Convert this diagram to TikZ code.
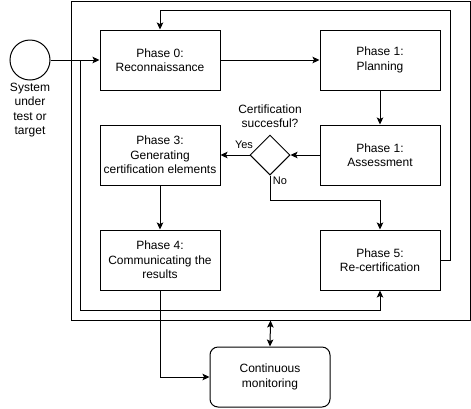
\documentclass[tikz,border=0pt]{standalone}
\usepackage{fontspec}
\setmainfont{Liberation Sans}
\usetikzlibrary{shapes.geometric,arrows.meta}
\tikzset{
  box/.style={draw, line width=1pt, minimum width=120pt, minimum height=60pt, align=center, inner sep=0pt, font=\fontsize{12}{14.4}\selectfont},
  lbl/.style={inner sep=0pt, align=center, font=\fontsize{12}{14.4}\selectfont},
  slbl/.style={inner sep=0pt, font=\fontsize{11}{13}\selectfont},
  conn/.style={line width=1pt, -{Stealth[length=7pt,width=6.5pt,inset=1.5pt]}},
  line/.style={line width=1pt},
  dbl/.style={line width=1pt, {Stealth[length=7pt,width=6.5pt,inset=1.5pt]}-{Stealth[length=7pt,width=6.5pt,inset=1.5pt]}}
}
\begin{document}
\begin{tikzpicture}[x=1pt,y=-1pt]
\useasboundingbox (0,0) rectangle (471,408);
\fill[white] (0,0) rectangle (471,408);
% outer frame
\node[draw, line width=1pt, minimum width=399pt, minimum height=319pt, inner sep=0pt, anchor=north west] (outer) at (70.5,0.5) {};
% system
\node[draw, circle, line width=1pt, minimum size=40pt, inner sep=0pt] (sys) at (30,60) {};
\node[lbl, font=\fontsize{12}{14.5}\selectfont] (syslbl) at (30,110) {System\\under\\test or\\target};
% boxes
\node[box] (p0) at (160,60) {Phase 0:\\Reconnaissance};
\node[box] (p1) at (380,60) {Phase 1:\\Planning};
\node[box] (pa) at (380,155) {Phase 1:\\Assessment};
\node[box] (p3) at (160,155) {Phase 3:\\Generating\\certification elements};
\node[box] (p4) at (160,260) {Phase 4:\\Communicating the\\results};
\node[box] (p5) at (380,260) {Phase 5:\\Re-certification};
\node[draw, line width=1pt, rounded corners=8pt, minimum width=120pt, minimum height=60pt, align=center, inner sep=0pt, font=\fontsize{12}{14.4}\selectfont] (mon) at (270,377) {Continuous\\monitoring};
% decision
\node[draw, diamond, line width=1pt, minimum width=40pt, minimum height=40pt, inner sep=0pt] (dia) at (270,155) {};
\node[lbl] (q) at (270,116) {Certification\\succesful?};
\node[slbl] (yes) at (244,145) {Yes};
\node[slbl] (no) at (280,181) {No};
% coordinates
\coordinate (j1) at (80,60);
\coordinate (b1) at (80,310);
\coordinate (lt) at (450,10);
\coordinate (nb) at (270,200);
% connectors
\draw[conn] (sys.east) -- (p0.west);
\draw[conn] (sys.east) -- (j1) -- (b1) -| (p5.south);
\draw[conn] (p0.east) -- (p1.west);
\draw[conn] (p1.south) -- (pa.north);
\draw[conn] (pa.west) -- (dia.east);
\draw[conn] (dia.west) -- (p3.east);
\draw[conn] (dia.south) -- (nb) -| (p5.north);
\draw[conn] (p3.south) -- (p4.north);
\draw[conn] (p5.east) -| (lt) -| (p0.north);
\draw[conn] (p4.south) |- (mon.west);
\draw[dbl] (outer.south) -- (mon.north);
\end{tikzpicture}
\end{document}
